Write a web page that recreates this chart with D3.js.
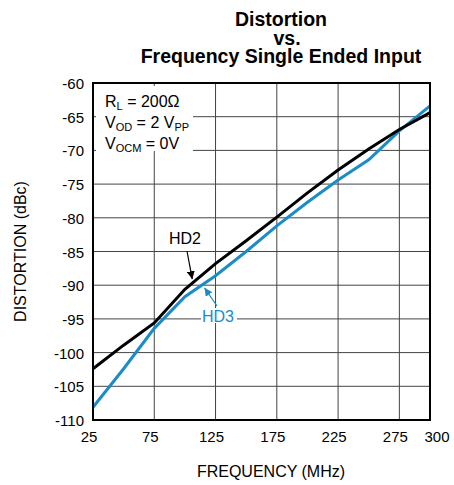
<!DOCTYPE html>
<html><head><meta charset="utf-8">
<script src="https://cdn.jsdelivr.net/npm/d3@7"></script>
<style>body{margin:0;background:#fff}svg text{font-family:"Liberation Sans",Arial,sans-serif}</style>
</head><body><svg id="c" width="454" height="485"></svg>
<script>
const freq = [25, 50, 75, 100, 125, 150, 175, 200, 225, 250, 275, 300];
const hd2 = [-102.4, -98.9, -95.6, -90.6, -86.8, -83.4, -79.9, -76.3, -72.9, -69.8, -66.9, -64.4];
const hd3 = [-108.1, -102.4, -96.4, -91.7, -88.6, -85.0, -81.2, -77.7, -74.4, -71.4, -67.1, -63.4];
const xTicks = [25, 75, 125, 175, 225, 275, 300];
const yTicks = [-60, -65, -70, -75, -80, -85, -90, -95, -100, -105, -110];
const titleLines = ["Distortion", "vs.", "Frequency Single Ended Input"];

const L = 93, T = 83, W = 337, H = 337;
const blue = "#1a8cc8";
const svg = d3.select("#c");
const x = d3.scaleLinear().domain([25, 300]).range([L, L + W]);
const y = d3.scaleLinear().domain([-110, -60]).range([T + H, T]);

// grid
svg.append("g").selectAll("line").data(xTicks.filter(d => d > 25 && d < 300)).join("line")
  .attr("x1", d => x(d)).attr("x2", d => x(d)).attr("y1", T).attr("y2", T + H)
  .attr("stroke", "#444").attr("stroke-width", 1);
svg.append("g").selectAll("line").data(yTicks.filter(d => d > -110 && d < -60)).join("line")
  .attr("x1", L).attr("x2", L + W).attr("y1", d => y(d)).attr("y2", d => y(d))
  .attr("stroke", "#444").attr("stroke-width", 1);

// annotation box
svg.append("rect").attr("x", L + 3).attr("y", T + 3).attr("width", 97).attr("height", 65).attr("fill", "#fff");
const ann = svg.append("g").attr("font-size", 16).attr("fill", "#000");
function subLine(yy, parts) {
  const t = ann.append("text").attr("x", L + 12).attr("y", yy);
  parts.forEach(p => {
    const s = t.append("tspan").text(p[0]);
    if (p[1]) s.attr("font-size", 11).attr("dy", 3);
    else if (p[2]) s.attr("dy", -3);
  });
}
subLine(107, [["R"], ["L", 1], [" = 200Ω", 0, 1]]);
subLine(128, [["V"], ["OD", 1], [" = 2 V", 0, 1], ["PP", 1]]);
subLine(149, [["V"], ["OCM", 1], [" = 0V", 0, 1]]);

// lines
const line = d3.line().x((d, i) => x(freq[i])).y(d => y(d));
svg.append("path").datum(hd3).attr("d", line).attr("fill", "none").attr("stroke", blue).attr("stroke-width", 3);
svg.append("path").datum(hd2).attr("d", line).attr("fill", "none").attr("stroke", "#000").attr("stroke-width", 3);

// border
svg.append("rect").attr("x", L).attr("y", T).attr("width", W).attr("height", H)
  .attr("fill", "none").attr("stroke", "#000").attr("stroke-width", 2);

// tick labels
svg.append("g").attr("font-size", 15).attr("text-anchor", "end").selectAll("text").data(yTicks).join("text")
  .attr("x", L - 9).attr("y", d => y(d) + 6).text(d => d);
svg.append("g").attr("font-size", 15).attr("text-anchor", "middle").selectAll("text").data(xTicks).join("text")
  .attr("x", d => x(d) + (d === 300 ? 7 : -4)).attr("y", 442).text(d => d);

// axis titles
svg.append("text").attr("x", 271).attr("y", 477).attr("text-anchor", "middle").attr("font-size", 16).text("FREQUENCY (MHz)");
svg.append("text").attr("transform", "translate(26," + (T + H / 2) + ") rotate(-90)").attr("text-anchor", "middle")
  .attr("font-size", 16).text("DISTORTION (dBc)");

// title
svg.append("g").attr("font-size", 19.5).attr("font-weight", "bold").attr("text-anchor", "middle")
  .selectAll("text").data(titleLines).join("text")
  .attr("x", (d, i) => i === 1 ? 287 : 281).attr("y", (d, i) => 26 + i * 18.5).text(d => d);

// HD2 / HD3 labels
const defs = svg.append("defs");
[["ah2", "#000"], ["ah3", blue]].forEach(a => {
  defs.append("marker").attr("id", a[0]).attr("viewBox", "0 0 10 10").attr("refX", 10).attr("refY", 5)
    .attr("markerWidth", 6).attr("markerHeight", 6).attr("markerUnits", "userSpaceOnUse").attr("orient", "auto")
    .append("path").attr("d", "M0,0L10,5L0,10z").attr("fill", a[1]);
});
[["ah2", "#000"], ["ah3", blue]].forEach(a => d3.select("#" + a[0]).attr("markerWidth", 8).attr("markerHeight", 8));
svg.append("text").attr("x", 169).attr("y", 244).attr("font-size", 16).text("HD2");
svg.append("line").attr("x1", 187).attr("y1", 251).attr("x2", x(106)).attr("y2", y(-89.4) - 2)
  .attr("stroke", "#000").attr("stroke-width", 1.2).attr("marker-end", "url(#ah2)");
svg.append("rect").attr("x", 201).attr("y", 308).attr("width", 36).attr("height", 15).attr("fill", "#fff");
svg.append("text").attr("x", 202).attr("y", 322).attr("font-size", 16).attr("fill", blue).text("HD3");
svg.append("line").attr("x1", 217).attr("y1", 306).attr("x2", x(116)).attr("y2", y(-90.1) + 2)
  .attr("stroke", blue).attr("stroke-width", 1.2).attr("marker-end", "url(#ah3)");
</script></body></html>
